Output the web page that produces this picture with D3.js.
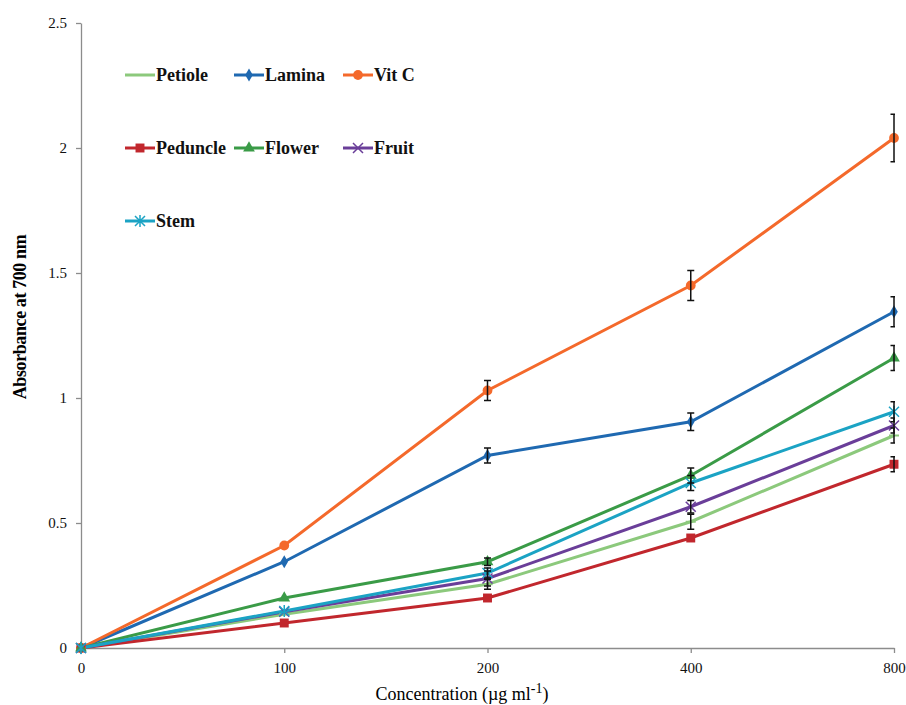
<!DOCTYPE html>
<html>
<head>
<meta charset="utf-8">
<script src="https://cdn.jsdelivr.net/npm/d3@7"></script>
<style>
body { margin: 0; background: #fff; }
svg text { font-family: "Liberation Serif", "Times New Roman", serif; }
</style>
</head>
<body>
<div id="chart"></div>
<script>
var concentrations = ["0", "100", "200", "400", "800"];
var yTicks = [0, 0.5, 1, 1.5, 2, 2.5];

var petiole = [0, 0.135, 0.255, 0.505, 0.85];
var lamina = [0, 0.345, 0.77, 0.905, 1.345];
var vitC = [0, 0.41, 1.03, 1.45, 2.04];
var peduncle = [0, 0.10, 0.20, 0.44, 0.735];
var flower = [0, 0.20, 0.345, 0.69, 1.16];
var fruit = [0, 0.145, 0.278, 0.565, 0.89];
var stem = [0, 0.148, 0.30, 0.66, 0.945];

var petioleErr = [0, 0.01, 0.02, 0.03, 0.03];
var laminaErr = [0, 0.01, 0.03, 0.035, 0.06];
var vitCErr = [0, 0.01, 0.04, 0.06, 0.095];
var peduncleErr = [0, 0.01, 0.01, 0.01, 0.03];
var flowerErr = [0, 0.01, 0.015, 0.03, 0.05];
var fruitErr = [0, 0.01, 0.03, 0.025, 0.03];
var stemErr = [0, 0.01, 0.02, 0.03, 0.04];

var seriesNames = ["Petiole", "Lamina", "Vit C", "Peduncle", "Flower", "Fruit", "Stem"];
var seriesColors = ["#8cc97c", "#1f69b1", "#f4692b", "#c1272d", "#3a9b47", "#6a3e99", "#1ba3c4"];
var seriesMarkers = ["dash", "diamond", "circle", "square", "triangle", "cross", "star"];

var series = [
  {name: seriesNames[0], values: petiole, err: petioleErr},
  {name: seriesNames[1], values: lamina, err: laminaErr},
  {name: seriesNames[2], values: vitC, err: vitCErr},
  {name: seriesNames[3], values: peduncle, err: peduncleErr},
  {name: seriesNames[4], values: flower, err: flowerErr},
  {name: seriesNames[5], values: fruit, err: fruitErr},
  {name: seriesNames[6], values: stem, err: stemErr}
];
series.forEach(function(s, i) { s.color = seriesColors[i]; s.marker = seriesMarkers[i]; });

var width = 906, height = 705;
var plotL = 81, plotR = 894, plotT = 23, plotB = 648;

var svg = d3.select("#chart").append("svg")
  .attr("width", width)
  .attr("height", height);

var x = d3.scalePoint().domain(concentrations).range([plotL, plotR]).padding(0);
var y = d3.scaleLinear().domain([0, 2.5]).range([plotB, plotT]);

svg.append("defs").append("clipPath").attr("id", "plotclip")
  .append("rect")
  .attr("x", plotL).attr("y", 0)
  .attr("width", plotR - plotL + 1).attr("height", height);

// axes
var yAxis = svg.append("g")
  .attr("transform", "translate(" + plotL + ",0)")
  .call(d3.axisLeft(y).tickValues(yTicks).tickSize(5).tickSizeOuter(0)
    .tickFormat(function(d) { return d; }));
var xAxis = svg.append("g")
  .attr("transform", "translate(0," + plotB + ")")
  .call(d3.axisBottom(x).tickSize(5).tickSizeOuter(0));

[yAxis, xAxis].forEach(function(a) {
  a.select(".domain").attr("stroke", "#8c8c8c").attr("stroke-width", 1.3);
  a.selectAll(".tick line").attr("stroke", "#8c8c8c").attr("stroke-width", 1.3);
  a.selectAll(".tick text")
    .style("font-family", "'Liberation Serif', serif")
    .style("font-size", "15px")
    .attr("fill", "#111");
});
yAxis.selectAll(".tick text").attr("x", -14);
xAxis.selectAll(".tick text").attr("dy", "1.15em");

svg.append("text")
  .attr("transform", "translate(26,317) rotate(-90)")
  .attr("text-anchor", "middle")
  .style("font-size", "18px")
  .style("font-weight", "bold")
  .style("letter-spacing", "-0.4px")
  .text("Absorbance at 700 nm");

var xt = svg.append("text")
  .attr("x", 462)
  .attr("y", 700)
  .attr("text-anchor", "middle")
  .style("font-size", "18px")
  .text("Concentration (µg ml");
xt.append("tspan").attr("dy", -7).style("font-size", "14px").text("-1");
xt.append("tspan").attr("dy", 7).text(")");

var line = d3.line()
  .x(function(d, i) { return x(concentrations[i]); })
  .y(function(d) { return y(d); });

function drawMarker(g, type, color) {
  if (type === "dash") {
    g.append("line").attr("x1", -5).attr("x2", 5).attr("stroke", color).attr("stroke-width", 2);
  } else if (type === "cross") {
    g.append("path").attr("d", "M-5,-5L5,5M-5,5L5,-5").attr("stroke", color).attr("stroke-width", 1.5);
  } else if (type === "star") {
    g.append("path").attr("d", "M-5,-5L5,5M-5,5L5,-5M0,-6L0,6").attr("stroke", color).attr("stroke-width", 1.5);
  } else {
    var sym = {diamond: d3.symbolDiamond, circle: d3.symbolCircle, square: d3.symbolSquare, triangle: d3.symbolTriangle}[type];
    var sz = {diamond: 50, circle: 75, square: 80, triangle: 60}[type];
    g.append("path").attr("d", d3.symbol().type(sym).size(sz)).attr("fill", color);
  }
}

var plot = svg.append("g");

// lines
series.forEach(function(s) {
  plot.append("path")
    .datum(s.values)
    .attr("fill", "none")
    .attr("stroke", s.color)
    .attr("stroke-width", 3)
    .attr("d", line);
});

// error bars, clipped at the right edge like the original
var errG = svg.append("g").attr("clip-path", "url(#plotclip)");
series.forEach(function(s) {
  s.values.forEach(function(v, i) {
    var e = s.err[i];
    if (e < 0.012) return;
    var cx = x(concentrations[i]);
    errG.append("path")
      .attr("d", "M" + (cx - 3.5) + "," + y(v + e) + "H" + (cx + 3.5) +
        "M" + cx + "," + y(v + e) + "V" + y(v - e) +
        "M" + (cx - 3.5) + "," + y(v - e) + "H" + (cx + 3.5))
      .attr("stroke", "#111")
      .attr("stroke-width", 1.5)
      .attr("fill", "none");
  });
});

// markers
series.forEach(function(s) {
  s.values.forEach(function(v, i) {
    var g = plot.append("g").attr("transform", "translate(" + x(concentrations[i]) + "," + y(v) + ")");
    drawMarker(g, s.marker, s.color);
  });
});

// legend
var legX = [125, 234, 343];
var legY = [75, 148, 221];
series.forEach(function(s, i) {
  var lx = legX[i % 3], ly = legY[Math.floor(i / 3)];
  var g = svg.append("g").attr("transform", "translate(" + lx + "," + ly + ")");
  g.append("line").attr("x1", 0).attr("x2", 30).attr("stroke", s.color).attr("stroke-width", 3);
  var mg = g.append("g").attr("transform", "translate(15,0)");
  if (s.marker !== "dash") drawMarker(mg, s.marker, s.color);
  g.append("text")
    .attr("x", 31)
    .attr("dy", "0.35em")
    .style("font-size", "18px")
    .style("font-weight", "bold")
    .attr("fill", "#111")
    .text(s.name);
});
</script>
</body>
</html>
